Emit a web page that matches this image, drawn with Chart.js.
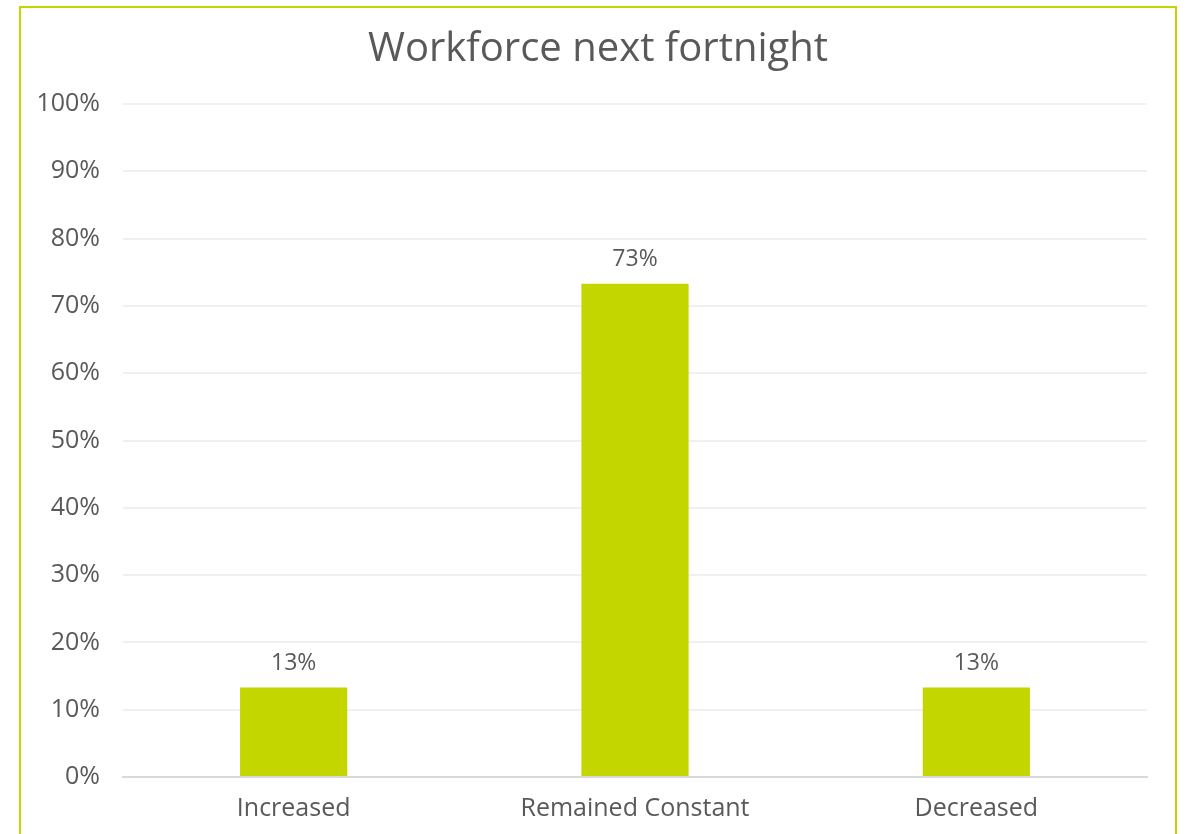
<!DOCTYPE html>
<html>
<head>
<meta charset="utf-8">
<script src="https://cdn.jsdelivr.net/npm/chart.js@4"></script>
<style>
    body { margin: 0; background: #fff; overflow: hidden; }
    .box {
        position: absolute;
        left: 19px;
        top: 6px;
        width: 1154px;
        height: 840px;
        border: 2px solid #c4d600;
    }
    canvas { display: block; }
</style>
</head>
<body>
<div class="box">
    <canvas id="bar-chart" width="1154" height="826"></canvas>
</div>
<script>
var chartTitle = "Workforce next fortnight";
var categories = ["Increased", "Remained Constant", "Decreased"];
var shares = [13.3, 73.3, 13.3];
var tickLabels = ["0%", "10%", "20%", "30%", "40%", "50%", "60%", "70%", "80%", "90%", "100%"];

var textColor = "#595959";
var fontName = "'Open Sans', sans-serif";

// title centred on the whole box, value labels above each bar
var chartText = {
    id: 'chartText',
    afterDraw: function (chart) {
        var ctx = chart.ctx;
        ctx.save();
        ctx.fillStyle = textColor;
        ctx.textAlign = "center";
        ctx.textBaseline = "middle";
        ctx.font = "40px " + fontName;
        ctx.fillText(chartTitle, chart.width / 2, 42);

        ctx.font = "23px " + fontName;
        var meta = chart.getDatasetMeta(0);
        for (var i = 0; i < meta.data.length; i++) {
            var bar = meta.data[i];
            ctx.fillText(Math.round(shares[i]) + "%", bar.x, bar.y - 24);
        }
        ctx.restore();
    }
};

new Chart(document.getElementById("bar-chart"), {
    type: 'bar',
    data: {
        labels: categories,
        datasets: [
            {
                label: chartTitle,
                backgroundColor: "#c4d600",
                data: shares,
                barPercentage: 0.314,
                categoryPercentage: 1
            }
        ]
    },
    options: {
        responsive: false,
        animation: false,
        layout: {
            padding: {left: 10, right: 28, top: 96, bottom: 14}
        },
        plugins: {
            legend: {display: false},
            tooltip: {enabled: false},
            title: {display: false}
        },
        scales: {
            x: {
                afterFit: function (scale) { scale.height = 43; },
                grid: {display: false, drawTicks: false},
                border: {display: true, color: "#d9d9d9", width: 2},
                ticks: {
                    color: textColor,
                    font: {family: fontName, size: 25},
                    padding: 17,
                    maxRotation: 0
                }
            },
            y: {
                min: 0,
                max: 100,
                afterFit: function (scale) { scale.width = 92; },
                grid: {color: "#f0f0f0", lineWidth: 2, drawTicks: false},
                border: {display: false},
                ticks: {
                    stepSize: 10,
                    color: textColor,
                    font: {family: fontName, size: 25},
                    padding: 23,
                    callback: function (value, index) { return tickLabels[index]; }
                }
            }
        }
    },
    plugins: [chartText]
});
</script>
</body>
</html>
